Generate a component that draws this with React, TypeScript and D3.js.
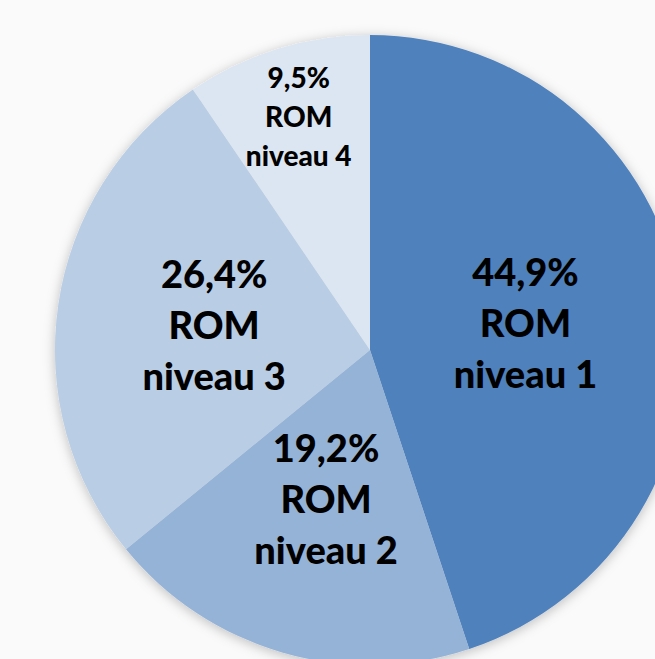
import React, { useEffect, useRef } from "react";
import * as d3 from "d3";

const categories = ["ROM niveau 1", "ROM niveau 2", "ROM niveau 3", "ROM niveau 4"];
const values = [44.9, 19.2, 26.4, 9.5];
const colors = ["#4F81BD", "#95B3D7", "#B9CDE5", "#DCE6F2"];

const App = () => {
  const ref = useRef<SVGSVGElement>(null);

  useEffect(() => {
    const width = 655;
    const height = 659;
    const cx = 370;
    const cy = 350;
    const radius = 315;

    const svg = d3.select(ref.current);
    svg.selectAll("*").remove();
    svg.attr("width", width).attr("height", height);

    svg.append("rect").attr("width", width).attr("height", height).attr("fill", "#fafafa");

    const defs = svg.append("defs");
    defs
      .append("filter")
      .attr("id", "shadow")
      .attr("x", "-20%")
      .attr("y", "-20%")
      .attr("width", "140%")
      .attr("height", "140%")
      .append("feDropShadow")
      .attr("dx", 0)
      .attr("dy", 2)
      .attr("stdDeviation", 6)
      .attr("flood-color", "#000")
      .attr("flood-opacity", 0.25);

    const data = categories.map((c, i) => ({ name: c, value: values[i], color: colors[i] }));
    const pie = d3
      .pie<any>()
      .sort(null)
      .value((d) => d.value);
    const arcs = pie(data);

    const arc = d3.arc<any>().innerRadius(0).outerRadius(radius);

    const g = svg.append("g").attr("transform", `translate(${cx},${cy})`);

    g.append("g")
      .attr("filter", "url(#shadow)")
      .selectAll("path")
      .data(arcs)
      .join("path")
      .attr("d", arc)
      .attr("fill", (d) => d.data.color);

    const labels = g
      .selectAll("g.label")
      .data(arcs)
      .join("g")
      .attr("class", "label")
      .attr("transform", (d) => {
        const small = d.data.value < 10;
        const r = small ? radius * 0.77 : radius * 0.5;
        const [x, y] = d3.arc<any>().innerRadius(r).outerRadius(r).centroid(d);
        return `translate(${x},${y})`;
      });

    labels.each(function (d) {
      const small = d.data.value < 10;
      const fs = small ? 28 : 38;
      const step = small ? 39 : 51;
      const off = small ? 9 : 12;
      const lines = [
        d3.format(".1f")(d.data.value).replace(".", ",") + "%",
        "ROM",
        d.data.name.replace("ROM ", ""),
      ];
      d3.select(this)
        .selectAll("text")
        .data(lines)
        .join("text")
        .attr("text-anchor", "middle")
        .attr("y", (_, i) => off + (i - 1) * step)
        .attr("font-family", "Lato, 'Open Sans', sans-serif")
        .attr("font-weight", 900)
        .attr("font-size", fs)
        .attr("fill", "#000")
        .text((t) => t);
    });
  }, []);

  return (
    <div style={{ position: "fixed", left: 0, top: 0 }}>
      <svg ref={ref} style={{ display: "block" }} />
    </div>
  );
};

export default App;
